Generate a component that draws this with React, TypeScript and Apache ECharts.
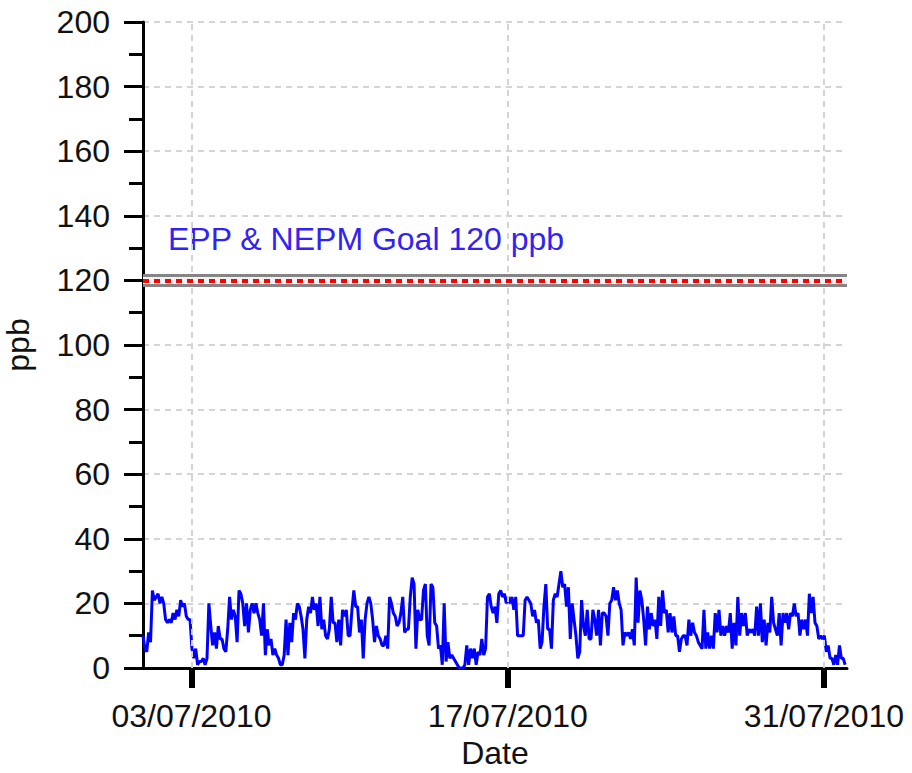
import React, { useEffect, useRef } from "react";
import * as echarts from "echarts";

// Ozone readings (ppb), one value every 2 hours from the start time
const startTime = Date.UTC(2010, 5, 30, 20, 30);
const endTime = Date.UTC(2010, 5, 30, 20, 30) + 748 * 3600 * 1000;
const stepHours = 2;

const valuesPart1 = [
  10, 6, 5, 11, 8, 24, 21, 22, 23, 20, 22, 20, 15, 14, 15, 14, 17, 15, 18, 16,
  21, 19, 20, 16, 15, 15, 6, 3, 6, 1, 2, 2, 3, 1, 3, 20, 13, 7, 11, 6,
  13, 9, 9, 6, 5, 12, 22, 15, 18, 16, 8, 24, 23, 20, 13, 20, 11, 18, 20, 17,
  20, 17, 15, 10, 20, 4, 12, 7, 9, 4, 6, 4, 3, 1, 1, 4, 15, 4, 14, 8,
  17, 15, 20, 19, 16, 12, 3, 15, 19, 17, 22, 18, 20, 13,
];
const valuesPart2 = [
  22, 12, 15, 10, 9, 12, 22, 14, 14, 8, 15, 7, 18, 16, 18, 10, 10, 18, 24, 19,
  19, 11, 15, 3, 15, 20, 22, 20, 15, 8, 13, 10, 9, 7, 7, 10, 6, 22, 20, 17,
  16, 13, 14, 17, 22, 11, 12, 12, 22, 28, 26, 6, 18, 15, 15, 24, 26, 10, 7, 26,
  25, 14, 13, 6, 7, 1, 20, 2, 8, 3, 4, 3, 2, 1, 0, 0, 0, 1, 7, 1,
  6, 3, 6, 1, 5, 4, 9, 4, 6, 22,
];
const valuesPart3 = [
  23, 19, 17, 19, 14, 23, 24, 22, 23, 20, 22, 20, 22, 18, 22, 10, 10, 10, 10, 21,
  22, 21, 20, 16, 18, 14, 15, 6, 8, 19, 26, 12, 12, 6, 21, 23, 22, 26, 30, 25,
  26, 19, 25, 9, 20, 15, 10, 3, 5, 21, 13, 10, 18, 9, 9, 18, 15, 10, 18, 7,
  17, 17, 16, 10, 20, 21, 25, 21, 24, 20, 18, 7, 11, 10, 11, 9, 12, 7, 28, 14,
  24, 21, 15, 7, 19, 12, 17, 13, 15, 9, 22, 13,
];
const valuesPart4 = [
  24, 17, 18, 11, 17, 11, 16, 10, 10, 5, 9, 10, 10, 7, 15, 10, 14, 11, 10, 8,
  7, 6, 18, 6, 11, 6, 10, 6, 17, 11, 18, 10, 13, 10, 13, 11, 17, 6, 14, 7,
  22, 10, 17, 13, 17, 10, 12, 11, 12, 10, 19, 10, 20, 8, 15, 7, 14, 11, 22, 14,
  12, 10, 17, 7, 17, 14, 17, 12, 17, 16, 20, 16, 17, 10, 15, 12, 15, 10, 23, 17,
  22, 14, 13, 9, 10, 9, 10, 5, 7, 3, 3, 1, 4, 1, 7, 3, 3, 1,
];

const tickDates = [Date.UTC(2010, 6, 3), Date.UTC(2010, 6, 17), Date.UTC(2010, 6, 31)];
const goalValue = 120;
const goalLabel = "EPP & NEPM Goal 120 ppb";
const yMin = 0;
const yMax = 200;
const yInterval = 20;

const pad = (n: number) => (n < 10 ? "0" + n : "" + n);
const fmtDate = (v: number) => {
  const d = new Date(v);
  return pad(d.getUTCDate()) + "/" + pad(d.getUTCMonth() + 1) + "/" + d.getUTCFullYear();
};

export default function App() {
  const ref = useRef<HTMLDivElement>(null);
  useEffect(() => {
    document.body.style.margin = "0";
    if (!ref.current) return;
    const chart = echarts.init(ref.current, undefined, { renderer: "svg" });
    const values = [...valuesPart1, ...valuesPart2, ...valuesPart3, ...valuesPart4];
    const data = values.map((v, i) => [startTime + i * stepHours * 3600 * 1000, v]);
    const font = "'Liberation Sans', Arial, sans-serif";
    const gridStyle = { color: "#d4d4d4", width: 2, type: [6, 5] as any };
    chart.setOption({
      animation: false,
      backgroundColor: "#ffffff",
      grid: { left: 143, right: 65, top: 22, bottom: 105, containLabel: false, outerBoundsMode: "none" },
      xAxis: {
        type: "value",
        min: startTime,
        max: endTime,
        name: "Date",
        nameLocation: "middle",
        nameGap: 68,
        nameTextStyle: { fontFamily: font, fontSize: 32, color: "#111" },
        axisLine: { show: true, onZero: false, lineStyle: { color: "#000", width: 3 } },
        axisTick: { show: true, length: 20, lineStyle: { color: "#000", width: 6 }, customValues: tickDates },
        axisLabel: {
          show: true,
          customValues: tickDates,
          formatter: (v: number) => fmtDate(v),
          fontFamily: font,
          fontSize: 32,
          color: "#111",
          margin: 32,
          showMinLabel: true,
          showMaxLabel: true,
        },
        splitLine: { show: false },
      },
      yAxis: {
        type: "value",
        min: yMin,
        max: yMax,
        interval: yInterval,
        name: "ppb",
        nameLocation: "middle",
        nameGap: 109,
        nameRotate: 90,
        nameTextStyle: { fontFamily: font, fontSize: 32, color: "#111" },
        axisLine: { show: true, lineStyle: { color: "#000", width: 3 } },
        axisTick: { show: true, length: 19, lineStyle: { color: "#000", width: 3 } },
        minorTick: { show: true, splitNumber: 2, length: 14, lineStyle: { color: "#000", width: 3 } },
        axisLabel: { fontFamily: font, fontSize: 32, color: "#111", margin: 33 },
        splitLine: { show: true, lineStyle: gridStyle },
      },
      graphic: [
        {
          type: "text",
          left: 168,
          top: 223,
          style: { text: goalLabel, fontFamily: font, fontSize: 32, fill: "#3322f4" },
        },
      ],
      series: [
        {
          type: "line",
          data,
          showSymbol: false,
          symbol: "none",
          lineStyle: { color: "#0000ff", width: 3 },
          z: 3,
          markLine: {
            silent: true,
            symbol: "none",
            label: { show: false },
            data: [
              ...tickDates.map((t) => ({ xAxis: t, lineStyle: gridStyle })),
              { yAxis: goalValue, lineStyle: { color: "#858585", width: 13, type: "solid" } },
              { yAxis: goalValue, lineStyle: { color: "#f2f2f2", width: 7, type: "solid" } },
              { yAxis: goalValue, lineStyle: { color: "#ff0000", width: 4, type: [6, 5] } },
            ],
          },
        },
      ],
    });
    return () => chart.dispose();
  }, []);
  return <div ref={ref} style={{ width: 912, height: 773 }} />;
}
